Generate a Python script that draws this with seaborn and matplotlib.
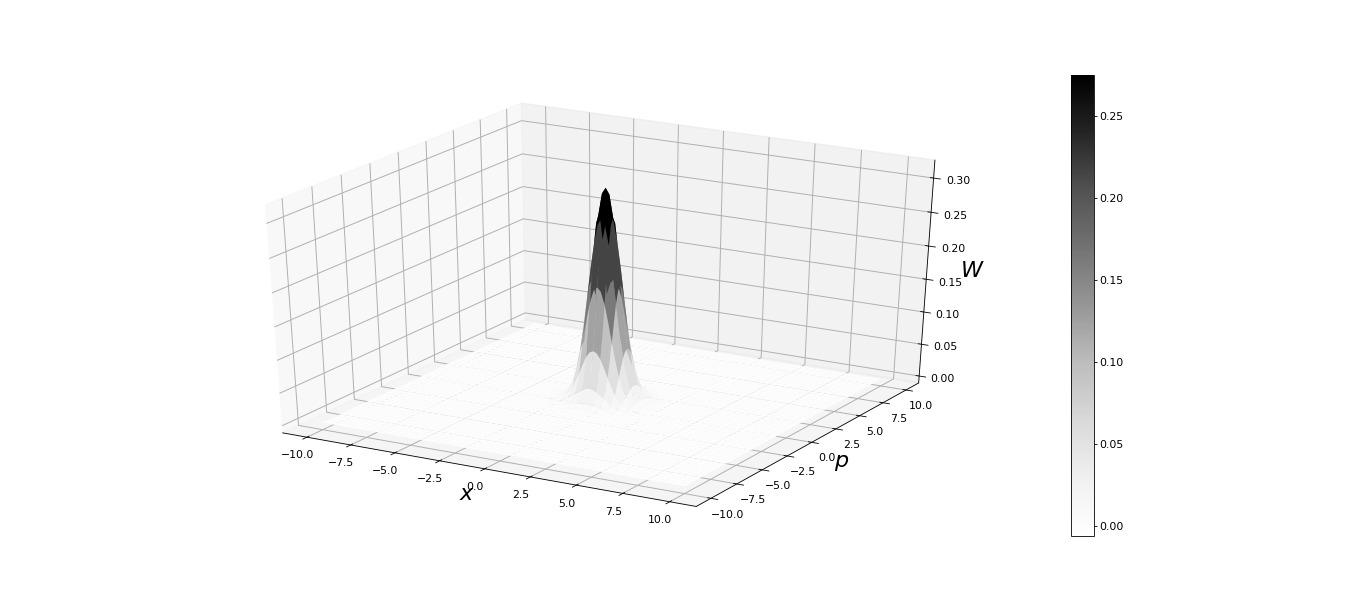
import numpy as np
import seaborn as sns
import matplotlib
matplotlib.use("Agg")
import matplotlib.pyplot as plt
from matplotlib.colors import Normalize

# W (x 1000) for one quadrant of the peak, step 0.2 in x and p
w_quadrant = [
    [318, 309, 277, 231, 179, 129, 86, 54, 31, 19, 11, 6, 4, 2, 1, 1, 0],
    [309, 298, 267, 223, 173, 124, 83, 52, 30, 18, 11, 6, 4, 2, 1, 1, 0],
    [277, 267, 239, 200, 155, 112, 75, 47, 27, 17, 10, 6, 3, 2, 1, 1, 0],
    [231, 223, 200, 166, 129, 93, 62, 39, 23, 15, 9, 5, 3, 2, 1, 0, 0],
    [179, 173, 155, 129, 100, 72, 48, 30, 20, 13, 7, 5, 3, 1, 1, 0, 0],
    [129, 124, 112, 93, 72, 52, 35, 22, 16, 10, 6, 4, 2, 1, 1, 0, 0],
    [86, 83, 75, 62, 48, 35, 23, 17, 11, 7, 5, 3, 2, 1, 0, 0, 0],
    [54, 52, 47, 39, 30, 22, 17, 12, 8, 5, 3, 2, 1, 1, 0, 0, 0],
    [31, 30, 27, 23, 20, 16, 11, 8, 5, 4, 2, 1, 1, 0, 0, 0, 0],
    [19, 18, 17, 15, 13, 10, 7, 5, 4, 3, 1, 1, 1, 0, 0, 0, 0],
    [11, 11, 10, 9, 7, 6, 5, 3, 2, 1, 1, 1, 0, 0, 0, 0, 0],
    [6, 6, 6, 5, 5, 4, 3, 2, 1, 1, 1, 0, 0, 0, 0, 0, 0],
    [4, 4, 3, 3, 3, 2, 2, 1, 1, 1, 0, 0, 0, 0, 0, 0, 0],
    [2, 2, 2, 2, 1, 1, 1, 1, 0, 0, 0, 0, 0, 0, 0, 0, 0],
    [1, 1, 1, 1, 1, 1, 0, 0, 0, 0, 0, 0, 0, 0, 0, 0, 0],
    [1, 1, 1, 0, 0, 0, 0, 0, 0, 0, 0, 0, 0, 0, 0, 0, 0],
    [0, 0, 0, 0, 0, 0, 0, 0, 0, 0, 0, 0, 0, 0, 0, 0, 0],
]
xy_ticks = [-10.0, -7.5, -5.0, -2.5, 0.0, 2.5, 5.0, 7.5, 10.0]
w_ticks = [0.00, 0.05, 0.10, 0.15, 0.20, 0.25, 0.30]
cbar_ticks = [0.00, 0.05, 0.10, 0.15, 0.20, 0.25]
w_min, w_max = -0.006, 0.275

sns.set_theme(style="ticks", rc={
    "text.color": "black", "axes.edgecolor": "black", "axes.labelcolor": "black",
    "xtick.color": "black", "ytick.color": "black", "grid.color": "#b0b0b0",
    "grid.linewidth": 0.7, "axes.linewidth": 0.6, "font.size": 7.8,
    "xtick.labelsize": 7.8, "ytick.labelsize": 7.8,
    "xtick.major.width": 0.6, "ytick.major.width": 0.6,
    "xtick.major.size": 2.5, "ytick.major.size": 2.5,
    "xtick.major.pad": 1.5, "ytick.major.pad": 1.5,
})
plt.rcParams["font.family"] = ["DejaVu Sans"]
plt.rcParams["mathtext.fontset"] = "dejavusans"

# whole plane is flat, only the middle holds the peak
quad = np.array(w_quadrant) / 1000
right = np.hstack([quad[:, :0:-1], quad])
peak = np.vstack([right[:0:-1], right])
W = np.zeros((101, 101))
W[34:67, 34:67] = peak
x = np.linspace(-10, 10, 101)
X, P = np.meshgrid(x, x)

cmap = sns.color_palette("Greys", as_cmap=True)
fig = plt.figure(figsize=(13.66, 6.13), dpi=100)
ax = fig.add_axes([0.1209, 0.123, 0.628, 0.762], projection="3d")
ax.apply_aspect = lambda position=None: None  # stretch the box to the axes
ax.set_box_aspect((1, 1, 1), zoom=0.936)

surf = ax.plot_surface(X, P, W, rstride=2, cstride=2, cmap=cmap, linewidth=0,
                       vmin=w_min, vmax=w_max)
ax.set_xlim(-11.4, 11.4)
ax.set_ylim(-11.4, 11.4)
ax.set_zlim(-0.011, 0.326)
ax.set_xticks(xy_ticks)
ax.set_yticks(xy_ticks)
ax.set_zticks(w_ticks)
ax.set_xlabel("$x$", fontsize=16, labelpad=-3)
ax.set_ylabel("$p$", fontsize=16, labelpad=-3)
ax.set_zlabel("$W$", fontsize=16, labelpad=-3)

cax = fig.add_axes([1071 / 1366, 1 - 536 / 613, 23 / 1366, 461 / 613])
cb = fig.colorbar(plt.cm.ScalarMappable(Normalize(w_min, w_max), cmap), cax=cax)
cb.set_ticks(cbar_ticks)

fig.savefig("out.png", dpi=100)
